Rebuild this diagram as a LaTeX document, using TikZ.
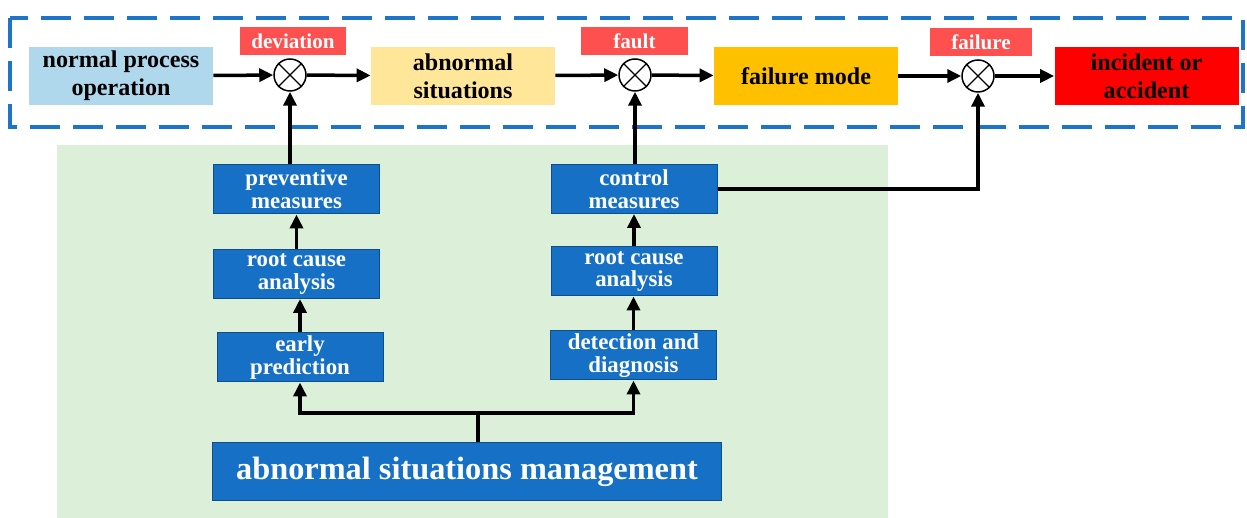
\documentclass[tikz,border=0pt]{standalone}
\usepackage{fontspec}
\setmainfont{Liberation Serif}
\definecolor{asblue}{RGB}{21,112,198}
\definecolor{asdash}{RGB}{28,117,200}
\definecolor{aslight}{RGB}{176,216,236}
\definecolor{asyellow}{RGB}{255,230,153}
\definecolor{asorange}{RGB}{255,192,0}
\definecolor{asred}{RGB}{255,0,0}
\definecolor{aslabel}{RGB}{255,80,80}
\definecolor{asgreen}{RGB}{220,239,216}
\usetikzlibrary{arrows.meta,positioning,calc}

\begin{document}
\begin{tikzpicture}[x=0.2mm, y=-0.2mm,
  every node/.style={align=center, inner sep=0pt, font=\bfseries},
  topbox/.style={minimum width=36.8mm, minimum height=11.6mm,
                 font=\fontsize{13.7}{15.9}\selectfont\bfseries},
  tagbox/.style={fill=aslabel, text=white, minimum height=5.6mm,
                 font=\fontsize{12}{13}\selectfont\bfseries},
  mbox/.style={fill=asblue, draw=asblue!70!black, line width=0.2mm, text=white,
               minimum width=33.2mm, minimum height=9.8mm,
               font=\fontsize{13}{13}\selectfont\bfseries},
  mult/.style={circle, draw, fill=white, line width=0.3mm, minimum size=6.4mm},
  arr/.style={-{Triangle[length=2.8mm,width=2.6mm]}, line width=0.7mm},
]
\useasboundingbox (0,0) rectangle (1247,518);

% === Management area (green) ===
\fill[asgreen] (57,145) rectangle (888,518);

% === Process chain (top) ===
\draw[asdash, line width=0.7mm, dash pattern=on 6mm off 2.6mm] (10,18) rectangle (1243,127);

\node[topbox, fill=aslight] (npo) at (121,76) {normal process\\operation};
\node[topbox, fill=asyellow] (abn) at (463,76) {abnormal\\situations};
\node[topbox, fill=asorange] (fmode) at (806,76) {failure mode};
\node[topbox, fill=asred] (inc) at (1146.5,76) {incident or\\accident};

\node[tagbox, minimum width=21.2mm] (dev) at (293,41) {deviation};
\node[tagbox, minimum width=21.4mm] (flt) at (634.5,41) {fault};
\node[tagbox, minimum width=20.4mm] (fail) at (981,42) {failure};

\node[mult] (c1) at (290,75) {};
\node[mult] (c2) at (635,75) {};
\node[mult] (c3) at (978,76) {};
\foreach \c in {c1,c2,c3}{
  \draw[line width=0.25mm] (\c.north west) -- (\c.south east);
  \draw[line width=0.25mm] (\c.north east) -- (\c.south west);
}

% === Measures (left and right columns) ===
\node[mbox] (prev) at (296.5,189.5) {preventive\\measures};
\node[mbox] (rcl) at (296.5,274) {root cause\\analysis};
\node[mbox] (early) at (300,357.5) {early\\prediction};

\node[mbox] (ctrl) at (634,189) {control\\measures};
\node[mbox] (rcr) at (634,271.5) {root cause\\analysis};
\node[mbox] (det) at (633.5,355.5) {detection and\\diagnosis};

\node[mbox, minimum width=101.6mm, minimum height=11.6mm,
      font=\fontsize{18.4}{20}\selectfont\bfseries] (asm) at (467,472) {abnormal situations management};

% === Arrows: chain ===
\draw[arr] (npo) -- (c1);
\draw[arr] (c1) -- (abn);
\draw[arr] (abn) -- (c2);
\draw[arr] (c2) -- (fmode);
\draw[arr] (fmode) -- (c3);
\draw[arr] (c3) -- (inc);

% === Arrows: measures ===
\draw[arr] (c1 |- prev.north) -- (c1.south);
\draw[arr] (rcl.north) -- (prev.south);
\draw[arr] (early.north) -- (early.north |- rcl.south);
\draw[arr] (c2 |- ctrl.north) -- (c2.south);
\draw[arr] (rcr.north) -- (ctrl.south);
\draw[arr] (det.north) -- (det.north |- rcr.south);
\draw[arr] (ctrl.east) -| (c3.south);

% === Arrows: management ===
\coordinate (fork) at (478,413);
\draw[line width=0.7mm] (asm.north -| fork) -- (fork);
\draw[arr] (fork) -| (early.south);
\draw[arr] (fork) -| (det.south);

\end{tikzpicture}
\end{document}
